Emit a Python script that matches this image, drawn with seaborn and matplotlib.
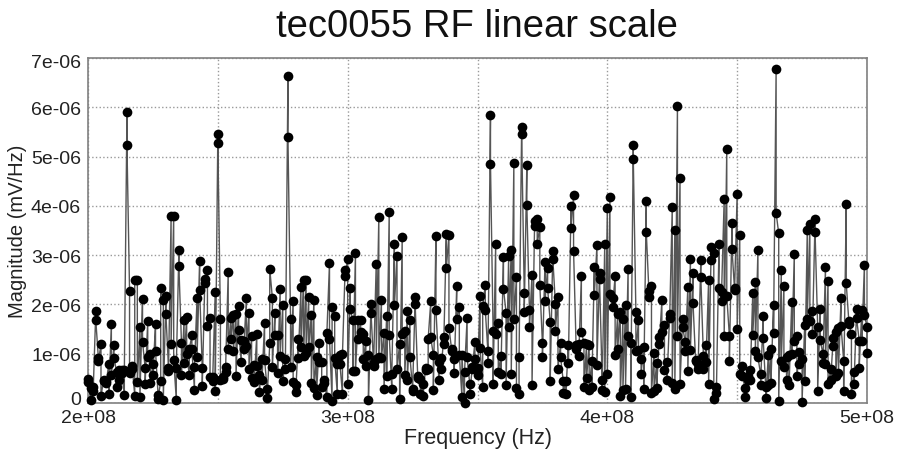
import numpy as np
import pandas as pd
import matplotlib
matplotlib.use("Agg")
import matplotlib.pyplot as plt
from matplotlib.transforms import ScaledTranslation
import seaborn as sns

TITLE = "tec0055 RF linear scale"
X_LABEL = "Frequency (Hz)"
Y_LABEL = "Magnitude (mV/Hz)"
X_TICKS = [2e8, 2.5e8, 3e8, 3.5e8, 4e8, 4.5e8, 5e8]
X_TICK_LABELS = ["2e+08", "", "3e+08", "", "4e+08", "", "5e+08"]
Y_TICKS = [0, 1e-6, 2e-6, 3e-6, 4e-6, 5e-6, 6e-6, 7e-6]
Y_TICK_LABELS = ["0", "1e-06", "2e-06", "3e-06", "4e-06", "5e-06", "6e-06", "7e-06"]

# one frequency every MHz, 200 to 500
FREQ_MHZ = np.arange(200, 501)

# the trace has two readings at each frequency, in units of 1e-06 mV/Hz
MAG_A = [
    .49, .07, .32, 1.86, .91, 1.19, .45, .45, .80, 1.61,
    1.18, .63, .66, .66, .17, 5.91, 2.28, .70, .15, 2.49,
    1.55, 2.11, .72, 1.66, 1.0, .80, 1.60, .16, .45, 2.08,
    2.18, .71, 3.80, 3.79, .07, 3.11, 1.21, 1.68, 1.74, .57,
    1.37, .26, 2.14, 2.89, .71, 2.52, 2.69, 1.72, .53, 2.26,
    5.46, 1.70, .49, .63, 2.66, 1.72, 1.78, 1.81, 1.97, .84,
    1.25, 2.13, 1.83, 1.35, .78, 1.39, .56, .90, 1.63, .28,
    1.21, 2.13, 1.83, 1.37, 2.31, 1.98, .89, 6.64, 1.70, 2.07,
    .36, 1.30, 2.35, 2.49, 2.49, 2.15, 1.79, 2.10, .93, 1.22,
    .84, .46, .12, 2.84, .04, 1.76, .19, .98, .18, 2.69,
    2.93, 2.33, 1.68, 3.04, 1.68, 1.68, 1.39, 1.25, .98, 2.01,
    .76, 2.82, 3.78, 2.08, 1.42, 1.76, 3.87, .28, 3.23, 2.98,
    1.20, 3.36, 1.47, 1.86, 1.68, .29, 2.15, .55, .49, .39,
    .71, .68, 2.06, .97, 3.39, .83, .91, 1.34, 3.42, 3.41,
    1.10, .89, 2.37, 1.95, .12, .01, 1.72, .39, .73, 1.24,
    .71, 2.18, .32, 2.40, 1.05, 5.85, 1.47, 3.22, 1.62, .95,
    2.96, 1.83, 2.99, 3.10, 4.87, 2.55, .18, 5.59, 2.24, 4.83,
    1.88, 2.60, 3.70, 3.74, 3.57, 1.22, 2.86, 2.74, 1.64, 3.09,
    2.01, 2.16, 1.22, .45, .45, 1.18, 3.99, 4.22, 1.18, 1.20,
    2.58, 1.22, 1.20, 1.17, .86, 2.76, 3.20, 2.64, .47, 3.22,
    3.95, 4.18, 2.13, 2.57, 1.81, 1.84, 1.70, 1.98, 2.72, 1.22,
    5.23, 1.84, 1.68, .89, 1.14, 4.10, 2.28, 2.37, 1.02, .82,
    1.33, 2.08, 1.59, .83, 1.80, 3.97, 3.50, 6.03, 4.57, 1.71,
    1.24, 2.35, 2.92, 2.64, .88, .70, 2.90, .95, 1.17, 2.49,
    3.16, 3.05, .32, 3.22, 2.07, 4.13, 5.16, 1.36, 3.65, 2.33,
    4.25, 3.40, .76, .31, .55, .66, 2.23, 2.45, 3.11, .59,
    1.77, .32, .97, 1.09, 1.98, 6.77, 3.44, 2.69, 2.37, .93,
    .98, 2.05, 3.02, 1.36, 1.03, .89, 1.59, 3.51, 3.63, 1.86,
    3.74, 1.55, 1.91, 1.0, 2.75, 2.47, .68, 1.32, 1.44, 1.52,
    2.13, .86, 4.03, 1.66, 1.41, .63, 1.91, 1.26, 1.88, 2.80,
    1.54,
]
MAG_B = [
    .43, .30, .25, 1.68, .85, .14, .46, .40, .18, .56,
    .92, .32, .46, .60, .66, 5.24, .60, .75, 2.49, .43,
    .12, 1.24, .39, .93, .41, .57, 1.05, .09, 2.34, .07,
    1.80, .64, 1.20, .88, .71, 2.78, .56, .82, 1.0, 1.09,
    1.09, .73, .93, 2.30, .34, 2.44, 1.56, .53, .45, .24,
    5.28, .46, .52, .73, 1.09, 1.29, 1.05, .54, 1.48, 1.27,
    1.10, 1.15, .70, .51, .43, .76, .22, .46, .88, .11,
    2.72, .73, 1.37, .61, .95, .44, .70, 5.40, .73, .43,
    .22, .91, 1.14, .95, 1.02, 1.14, .41, .30, .16, .83,
    .32, .40, 1.43, 1.30, 1.94, .91, .80, .80, 1.0, 2.57,
    .38, 1.90, .64, .64, 1.30, 1.44, .89, .76, .07, 1.83,
    .83, .90, .93, .91, .28, .55, 1.37, .59, 1.98, .68,
    .09, 1.41, .56, .46, .93, .25, 2.0, .50, .19, .14,
    .66, 1.30, 1.33, .26, 1.89, .46, .68, 1.19, 2.74, 1.53,
    1.05, .61, 1.71, .98, .97, .63, .93, .18, .70, .90,
    .57, 1.12, 1.97, 1.88, .81, 4.85, .38, 1.39, .63, .59,
    2.32, .36, 1.55, .59, 1.70, .31, .93, 5.46, 1.84, 4.02,
    1.54, .36, 3.60, 3.23, 2.39, .93, 2.06, 2.33, .45, 2.93,
    1.47, .70, .93, .20, .18, .82, 3.55, 3.08, 1.10, .95,
    1.45, .32, .51, .26, .32, 2.20, .78, 2.52, .26, .23,
    .59, 2.22, 1.95, .97, 1.10, .14, .26, .28, 1.36, .12,
    4.95, 1.05, 1.08, .59, .29, 3.47, 2.16, .21, .25, .30,
    1.19, 1.44, .66, .46, 1.72, .41, .28, 1.35, .39, 1.54,
    1.05, .64, 1.08, 2.03, .85, .80, 2.55, .70, .84, .38,
    2.91, .09, .21, 2.34, 2.26, 1.36, 2.17, .86, 3.13, 2.30,
    1.51, .59, .55, .12, .46, .46, 1.37, 1.05, .93, .36,
    1.31, .11, .36, .41, 1.43, 3.86, .04, .86, .73, .46,
    .36, 1.0, 1.25, .55, .80, .03, .45, 1.70, 1.66, 1.41,
    3.47, .24, 1.27, .81, .80, .38, .46, 1.15, .55, .60,
    1.57, .24, 2.43, 1.60, .18, .38, 1.72, .72, 1.26, 1.79,
    1.02,
]

sns.set_style("white")
plt.rcParams["font.family"] = ["Liberation Sans", "DejaVu Sans"]

df = pd.DataFrame({
    "freq": np.repeat(FREQ_MHZ * 1e6, 2),
    "mag": np.column_stack([MAG_A, MAG_B]).ravel() * 1e-6,
})

fig = plt.figure(figsize=(8.97, 4.52), dpi=100)
ax = fig.add_axes([88 / 897, 48 / 452, 779 / 897, 345 / 452])

sns.lineplot(data=df, x="freq", y="mag", estimator=None, sort=False, ax=ax,
             color="#555555", linewidth=1.0, marker="o", markersize=7,
             markerfacecolor="black", markeredgecolor="black", markeredgewidth=0,
             clip_on=False, zorder=3)

ax.set_xlim(2e8, 5e8)
ax.set_ylim(0, 7e-6)
ax.set_xticks(X_TICKS)
ax.set_xticklabels(X_TICK_LABELS)
ax.set_yticks(Y_TICKS)
ax.set_yticklabels(Y_TICK_LABELS)
ax.grid(True, color="#999999", linestyle=":", linewidth=1.0)
ax.set_axisbelow(True)
ax.tick_params(axis="x", labelsize=14, colors="#222222", length=0, pad=4)
ax.tick_params(axis="y", labelsize=14, colors="#222222", length=0, pad=5)

# the end labels sit a little inside the axis range in the original
labels = ax.get_yticklabels()
nudge = ScaledTranslation(0, 4 / 72, fig.dpi_scale_trans)
labels[0].set_transform(labels[0].get_transform() + nudge)
nudge = ScaledTranslation(0, -2 / 72, fig.dpi_scale_trans)
labels[-1].set_transform(labels[-1].get_transform() + nudge)

for spine in ax.spines.values():
    spine.set_color("#808080")
    spine.set_linewidth(1.2)

ax.set_xlabel(X_LABEL, fontsize=15.5, color="#222222", va="center")
ax.xaxis.set_label_coords(0.5, -0.101)
ax.set_ylabel(Y_LABEL, fontsize=14.5, color="#222222", va="center")
ax.yaxis.set_label_coords(-0.091, 0.5)
fig.text(477 / 897, 1 - 27 / 452, TITLE, ha="center", va="center", fontsize=27.5, color="#111111")

fig.savefig("out.png", dpi=100)
plt.close(fig)
